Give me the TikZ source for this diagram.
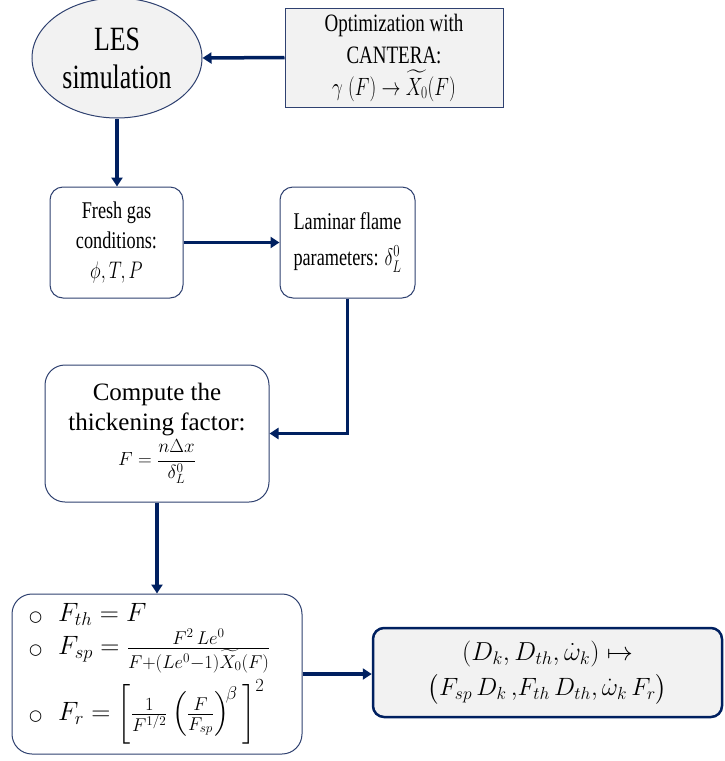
\RequirePackage{fix-cm}
\documentclass[tikz,border=0pt]{standalone}
\usepackage{amsmath}
\usepackage{graphicx}
\usepackage{fontspec}
\setmainfont{Liberation Serif}
\newfontfamily\symfont{DejaVu Sans}
\usetikzlibrary{shapes.geometric,arrows.meta}

\definecolor{navy}{HTML}{002060}
\definecolor{edgeblue}{HTML}{2F4170}
\definecolor{boxgray}{HTML}{F2F2F2}

\tikzset{
	flow/.style={line width=3.5pt, draw=navy, -{Triangle[length=9pt,width=11pt]}},
	roundbox/.style={draw=edgeblue, line width=1pt, fill=white, align=center, inner sep=0pt}
}
% narrow lines, as in the slides the figure comes from
\newcommand{\nrw}[1]{\scalebox{0.76}[1]{#1}}
\newcommand{\lstmark}{{\symfont\fontsize{15}{15}\selectfont ○}\hspace{16pt}}

\begin{document}
\begin{tikzpicture}[x=1pt,y=-1pt]
	\useasboundingbox (0,0) rectangle (725,761);

	% top row
	\draw (117,58) node (les) [ellipse, draw=edgeblue, line width=1pt, fill=boxgray, minimum width=170pt, minimum height=120pt, inner sep=0pt, align=center, font=\fontsize{34}{38}\selectfont] {\nrw{LES}\\\nrw{simulation}};
	\draw (394,57.5) node (opt) [rectangle, draw=edgeblue, line width=1pt, fill=boxgray, minimum width=218pt, minimum height=99pt, inner sep=0pt, align=center, font=\fontsize{25}{32}\selectfont] {\nrw{Optimization with}\\\nrw{CANTERA:}\\\nrw{$\gamma\;(F)\rightarrow\widetilde{X_0}(F)$}};

	% second row
	\draw (116.5,242.5) node (fresh) [roundbox, rounded corners=13pt, minimum width=133pt, minimum height=111pt, font=\fontsize{24}{30}\selectfont] {\nrw{Fresh gas}\\\nrw{conditions:}\\\nrw{$\phi, T, P$}};
	\draw (347.5,242.5) node (lam) [roundbox, rounded corners=13pt, minimum width=135pt, minimum height=111pt, font=\fontsize{24}{36}\selectfont] {\nrw{Laminar flame}\\\nrw{parameters: $\delta_L^0$}};

	% thickening factor
	\draw (157,433.5) node (comp) [roundbox, rounded corners=20pt, minimum width=224pt, minimum height=137pt, font=\fontsize{25}{30}\selectfont] {Compute the\\thickening factor:\\[3pt]{\fontsize{19}{30}\selectfont$F=\dfrac{n\Delta x}{\delta_L^0}$}};

	% the three factors
	\draw (157,674) node (fac) [roundbox, rounded corners=20pt, minimum width=290pt, minimum height=160pt, text width=256pt, align=left, font=\fontsize{26.5}{31}\selectfont] {\lstmark$F_{th} = F$\\[2pt]\lstmark$F_{sp} = \frac{F^2\,Le^0}{F+(Le^0-1)\widetilde{X_0}(F)}$\\[6pt]\lstmark$F_r = \left[\frac{1}{F^{1/2}}\left(\frac{F}{F_{sp}}\right)^{\!\beta}\,\right]^2$};

	\draw (547.5,672.5) node (res) [roundbox, draw=navy, line width=2.5pt, fill=boxgray, rounded corners=11pt, minimum width=349pt, minimum height=89pt, font=\fontsize{26}{35}\selectfont] {$(D_k, D_{th}, \dot\omega_k) \mapsto$\\{\fontsize{25}{35}\selectfont$\bigl(F_{sp}\,D_k\,{,}F_{th}\,D_{th}{,}\,\dot\omega_k\,F_r\bigr)$}};

	% connectors
	\draw[flow] (opt.west) -- (les.east);
	\draw[flow] (les.south) -- (les.south |- fresh.north);
	\draw[flow] (fresh.east) -- (lam.west);
	\draw[flow] (lam.south) |- (comp.east);
	\draw[flow] (comp.south) -- (fac.north);
	\draw[flow] (fac.east) -- (fac.east -| res.west);
\end{tikzpicture}
\end{document}
